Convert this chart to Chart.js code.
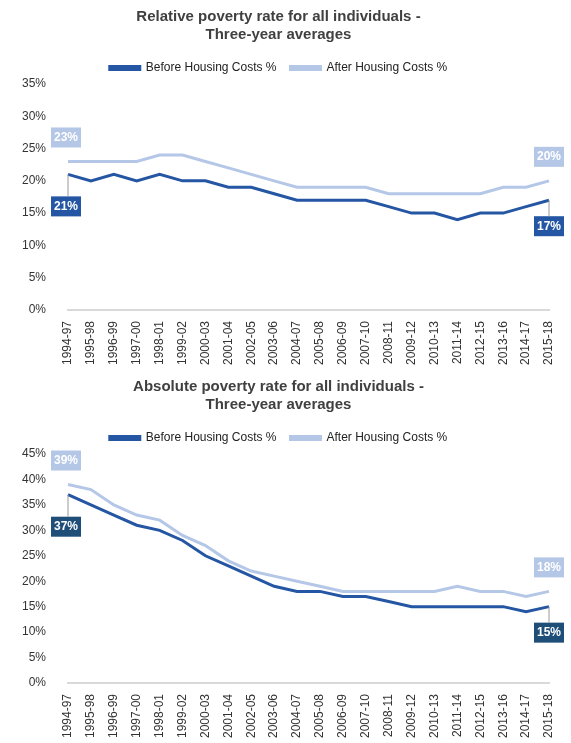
<!DOCTYPE html>
<html><head><meta charset="utf-8">
<script src="https://cdn.jsdelivr.net/npm/chart.js@4"></script>
<style>
body{margin:0;background:#fff;font-family:Calibri,"Liberation Sans",Arial,sans-serif}
.box{position:relative;width:571px}
</style></head><body>
<div class="box" style="height:370px"><canvas id="c1"></canvas></div>
<div class="box" style="height:373px"><canvas id="c2"></canvas></div>
<script>
const years = ["1994-97","1995-98","1996-99","1997-00","1998-01","1999-02","2000-03","2001-04","2002-05","2003-06","2004-07","2005-08","2006-09","2007-10","2008-11","2009-12","2010-13","2011-14","2012-15","2013-16","2014-17","2015-18"];
const relBhc = [21,20,21,20,21,20,20,19,19,18,17,17,17,17,16,15,15,14,15,15,16,17];
const relAhc = [23,23,23,23,24,24,23,22,21,20,19,19,19,19,18,18,18,18,18,19,19,20];
const absBhc = [37,35,33,31,30,28,25,23,21,19,18,18,17,17,16,15,15,15,15,15,14,15];
const absAhc = [39,38,35,33,32,29,27,24,22,21,20,19,18,18,18,18,18,19,18,18,17,18];

const DARK = '#2456a4', LIGHT = '#b4c7e7';

// draws the boxed end labels at first and last points
const endLabels = {
  id: 'endLabels',
  afterDatasetsDraw(chart, args, opts) {
    const ctx = chart.ctx;
    ctx.save();
    ctx.font = 'bold 12px "Liberation Sans", Arial';
    ctx.textAlign = 'center';
    ctx.textBaseline = 'middle';
    chart.data.datasets.forEach((ds, di) => {
      const meta = chart.getDatasetMeta(di);
      const n = ds.data.length;
      [0, n - 1].forEach(i => {
        const p = meta.data[i];
        const up = di === 1;
        const txt = ds.data[i] + '%';
        const w = 30, h = 20;
        let x = p.x + (i === 0 ? -2 : 0);
        let y = up ? p.y - 24 : p.y + 26;
        if (!up && i === 0) y = p.y + 32;
        ctx.fillStyle = up ? LIGHT : opts.dark;
        ctx.fillRect(x - w / 2, y - h / 2, w, h);
        ctx.fillStyle = '#fff';
        ctx.fillText(txt, x, y);
        if (!up) {
          ctx.strokeStyle = '#999'; ctx.lineWidth = 1;
          ctx.beginPath(); ctx.moveTo(p.x, p.y); ctx.lineTo(p.x, y - h / 2); ctx.stroke();
        }
      });
    });
    ctx.restore();
  }
};

function makeChart(id, title, bhc, ahc, max, dark) {
  new Chart(document.getElementById(id), {
    type: 'line',
    data: {
      labels: years,
      datasets: [
        { label: 'Before Housing Costs %', data: bhc, borderColor: DARK, backgroundColor: DARK, borderWidth: 3, pointRadius: 0, tension: 0 },
        { label: 'After Housing Costs %', data: ahc, borderColor: LIGHT, backgroundColor: LIGHT, borderWidth: 3, pointRadius: 0, tension: 0 }
      ]
    },
    options: {
      responsive: true, maintainAspectRatio: false, animation: false,
      layout: { padding: { left: 8, right: 22, top: 6, bottom: 2 } },
      plugins: {
        title: { display: true, text: title, color: '#404040', font: { size: 15, weight: 'bold', family: '"Liberation Sans", Arial' }, padding: { top: 2, bottom: 4 } },
        legend: { labels: { boxWidth: 30, boxHeight: 3, padding: 14, color: '#222', font: { size: 12, family: '"Liberation Sans", Arial' } } },
        tooltip: { enabled: false },
        endLabels: { dark: dark }
      },
      scales: {
        y: {
          min: 0, max: max,
          ticks: { stepSize: 5, color: '#333', padding: 14, font: { size: 12 }, callback: v => v + '%' },
          grid: { display: false }, border: { display: false }
        },
        x: {
          ticks: { color: '#333', font: { size: 12 }, minRotation: 90, maxRotation: 90, autoSkip: false },
          grid: { display: false }, border: { color: '#d9d9d9', width: 2 }
        }
      }
    },
    plugins: [endLabels]
  });
}

makeChart('c1', ['Relative poverty rate for all individuals -', 'Three-year averages'], relBhc, relAhc, 35, '#2456a4');
makeChart('c2', ['Absolute poverty rate for all individuals -', 'Three-year averages'], absBhc, absAhc, 45, '#1f4e79');
</script>
</body></html>
